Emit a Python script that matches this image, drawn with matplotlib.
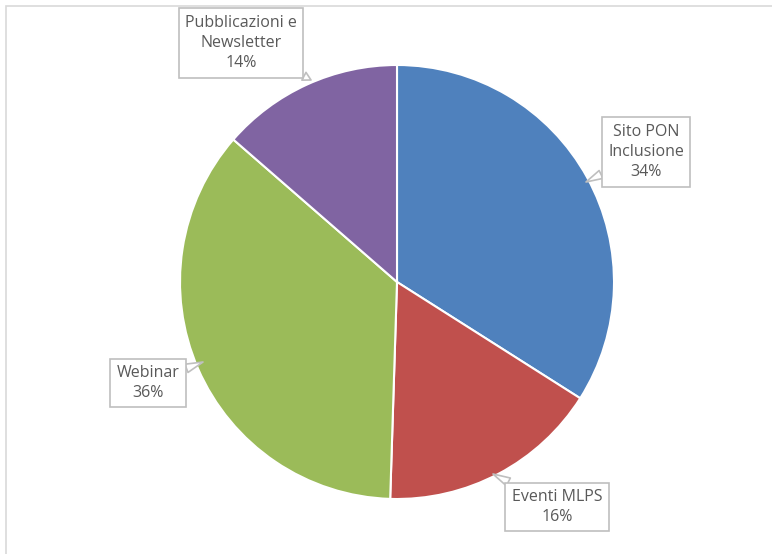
import matplotlib.pyplot as plt
from matplotlib.patches import Rectangle

W, H = 772, 554

categories = ["Sito PON\nInclusione", "Eventi MLPS", "Webinar", "Pubblicazioni e\nNewsletter"]
shares = [34.0, 16.5, 35.9, 13.6]
colors = ["#4F81BD", "#C0504D", "#9BBB59", "#8064A2"]

# callout positions (pixel coords, y from top) and where the tail points
label_pos = [(646, 152), (557, 507), (148, 383), (241, 43)]
tail_tip = [(586, 182), (493, 474), (203, 362), (311, 80)]

plt.rcParams["font.family"] = ["Open Sans", "DejaVu Sans"]

fig = plt.figure(figsize=(W / 100, H / 100), dpi=100)
ax = fig.add_axes([0, 0, 1, 1])
ax.axis("off")

fig.add_artist(Rectangle((6 / W, -0.1), 1.2, 1.1 - 6 / H, transform=fig.transFigure,
                         fill=False, edgecolor="#D9D9D9", linewidth=1.2))

ax.pie(shares, colors=colors, startangle=90, counterclock=False,
       center=(397, H - 282), radius=217,
       wedgeprops=dict(edgecolor="white", linewidth=1.5))

for cat, val, (lx, ly), (tx, ty) in zip(categories, shares, label_pos, tail_tip):
    ax.annotate(f"{cat}\n{val:.0f}%", xy=(tx, H - ty), xytext=(lx, H - ly),
                ha="center", va="center", fontsize=11.5, color="#595959",
                linespacing=1.35,
                bbox=dict(boxstyle="square,pad=0.4", facecolor="white",
                          edgecolor="#BFBFBF", linewidth=1.2),
                arrowprops=dict(arrowstyle="wedge,tail_width=0.55,shrink_factor=0.5",
                                facecolor="white", edgecolor="#BFBFBF",
                                linewidth=1.2, shrinkA=0, shrinkB=0))

ax.set_aspect("equal")
ax.set_xlim(0, W)
ax.set_ylim(0, H)
fig.savefig("out.png", dpi=100)
